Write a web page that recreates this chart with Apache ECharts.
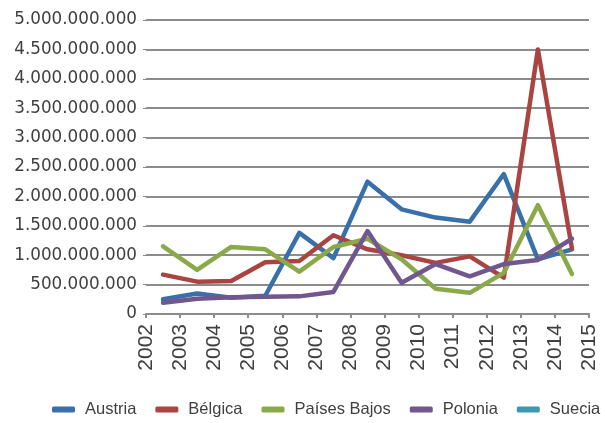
<!DOCTYPE html>
<html>
<head>
<meta charset="utf-8">
<script src="https://cdn.jsdelivr.net/npm/echarts@6/dist/echarts.min.js"></script>
<style>
html, body { margin: 0; padding: 0; background: #fff; }
#chart { width: 605px; height: 423px; }
</style>
</head>
<body>
<div id="chart"></div>
<script>
var years = [2002, 2003, 2004, 2005, 2006, 2007, 2008, 2009, 2010, 2011, 2012, 2013, 2014];
var seriesNames = ['Austria', 'Bélgica', 'Países Bajos', 'Polonia', 'Suecia'];
var austria = [250e6, 350e6, 275e6, 310e6, 1380e6, 950e6, 2250e6, 1780e6, 1640e6, 1570e6, 2380e6, 930e6, 1100e6];
var belgica = [670e6, 550e6, 560e6, 880e6, 900e6, 1340e6, 1100e6, 1000e6, 870e6, 980e6, 620e6, 4500e6, 1110e6];
var paisesBajos = [1150e6, 750e6, 1140e6, 1100e6, 720e6, 1140e6, 1280e6, 930e6, 430e6, 360e6, 700e6, 1850e6, 680e6];
var polonia = [190e6, 260e6, 285e6, 295e6, 300e6, 375e6, 1410e6, 530e6, 850e6, 640e6, 850e6, 920e6, 1280e6];
var suecia = [null, null, null, null, null, null, null, null, null, null, null, null, null];
var colors = ['#3A70A9', '#AA4441', '#8AA949', '#72578F', '#3D98B0'];

var chart = echarts.init(document.getElementById('chart'));

function toPoints(values) {
    // points sit in the middle of each year interval
    return values.map(function (v, i) { return [years[i] + 0.5, v]; });
}

function fmtDots(v) {
    return String(Math.round(v)).replace(/\B(?=(\d{3})+(?!\d))/g, '.');
}

var allValues = [austria, belgica, paisesBajos, polonia, suecia];

option = {
    backgroundColor: '#fff',
    animation: false,
    color: colors,
    grid: { left: 146, right: 16, top: 20, bottom: 109 },
    legend: {
        left: 52,
        top: 401,
        width: 560,
        padding: 0,
        itemWidth: 23,
        itemHeight: 6,
        itemGap: 19,
        icon: 'roundRect',
        textStyle: {
            fontFamily: 'Liberation Sans',
            fontSize: 16.5,
            color: '#404040',
            padding: [0, 0, 0, 5]
        },
        data: seriesNames
    },
    xAxis: {
        type: 'value',
        min: 2002,
        max: 2015,
        interval: 1,
        splitLine: { show: false },
        axisLine: { show: true, lineStyle: { color: '#8c8c8c', width: 2 } },
        axisTick: { show: true, length: 4, lineStyle: { color: '#8c8c8c', width: 2 } },
        axisLabel: {
            rotate: 90,
            margin: 10,
            fontFamily: 'Liberation Sans',
            fontSize: 21,
            color: '#404040',
            padding: [14, 0, 0, 0],
            formatter: function (v) { return String(v); }
        }
    },
    yAxis: {
        type: 'value',
        min: 0,
        max: 5000000000,
        interval: 500000000,
        axisLine: { show: false },
        axisTick: { show: true, length: 3, lineStyle: { color: '#8c8c8c' } },
        splitLine: { show: true, lineStyle: { color: '#8c8c8c', width: 2 } },
        axisLabel: {
            margin: 9,
            fontFamily: 'DejaVu Sans',
            fontSize: 16.8,
            color: '#404040',
            formatter: fmtDots
        }
    },
    series: seriesNames.map(function (name, i) {
        return {
            name: name,
            type: 'line',
            data: toPoints(allValues[i]),
            showSymbol: false,
            symbol: 'none',
            lineStyle: { width: 4.5, cap: 'round', join: 'round' }
        };
    })
};
chart.setOption(option);
</script>
</body>
</html>
